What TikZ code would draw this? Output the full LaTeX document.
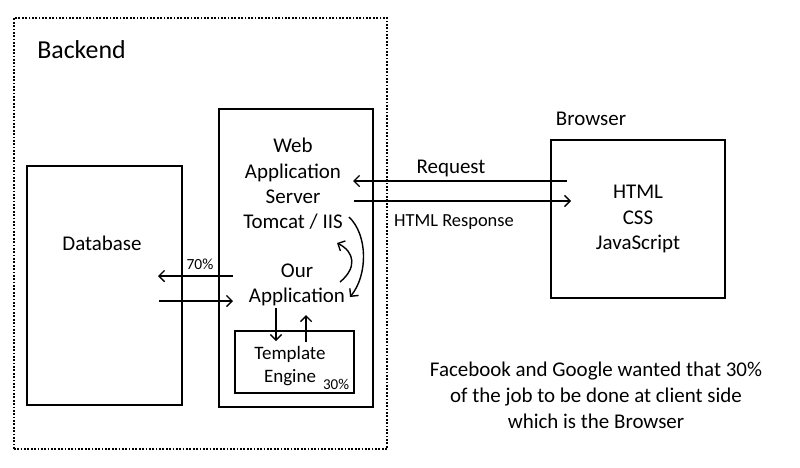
\documentclass[tikz,border=0pt]{standalone}
\usepackage{fontspec}
\setmainfont{Carlito}
\usetikzlibrary{arrows.meta, positioning}

\begin{document}
\begin{tikzpicture}[x=0.025cm, y=-0.025cm,
    box/.style={draw=black, line width=1.4pt, inner sep=0pt},
    txt/.style={font=\fontsize{14.9pt}{18pt}\selectfont, align=center, inner sep=0pt},
    smalltxt/.style={font=\fontsize{11pt}{13pt}\selectfont, inner sep=0pt},
    arr/.style={-{Straight Barb[length=4pt, width=8pt]}, line width=1pt}]
\useasboundingbox (0,0) rectangle (800,467);

% boxes
\node[box, dash pattern=on 1.2pt off 1.2pt, minimum width=9.325cm, minimum height=10.775cm] (backend) at (200.5,233.5) {};
\node[box, minimum width=3.875cm, minimum height=5.975cm] (db) at (104.5,285.5) {};
\node[box, minimum width=3.85cm, minimum height=7.45cm] (appserver) at (296,258) {};
\node[box, minimum width=2.975cm, minimum height=1.55cm] (tmpl) at (294.5,362) {};
\node[box, txt, minimum width=4.35cm, minimum height=3.95cm] (browser) at (638,219) {HTML\\CSS\\JavaScript};

% labels
\node[txt, font=\fontsize{18.4pt}{22pt}\selectfont] (backendlbl) at (81.5,50) {Backend};
\node[txt] (dblbl) at (102,243) {Database};
\node[txt] (webtxt) at (293,184) {Web\\Application\\Server\\Tomcat / IIS};
\node[txt] (apptxt) at (297,285) {Our\\Application};
\node[txt, font=\fontsize{13.5pt}{16pt}\selectfont] (tmpltxt) at (290,366) {Template\\Engine};
\node[smalltxt, font=\fontsize{10.7pt}{13pt}\selectfont] (pct30) at (336,384) {30\%};
\node[smalltxt] (pct70) at (200,264) {70\%};
\node[txt] (browserlbl) at (591,119) {Browser};
\node[txt] (reqlbl) at (451,168) {Request};
\node[txt, font=\fontsize{13.1pt}{16pt}\selectfont] (resplbl) at (454,222) {HTML Response};
\node[txt, font=\fontsize{14.9pt}{18.5pt}\selectfont] (caption) at (596,395)
    {Facebook and Google wanted that 30\%\\of the job to be done at client side\\which is the Browser};

% arrow ends
\coordinate (reqA) at (567,181);
\coordinate (reqB) at (353,181);
\coordinate (respA) at (354,201);
\coordinate (respB) at (571,201);
\coordinate (outA) at (233,276);
\coordinate (outB) at (158,276);
\coordinate (inA) at (159,301);
\coordinate (inB) at (233,301);
\coordinate (downA) at (276,308);
\coordinate (downB) at (276,341);
\coordinate (upA) at (306,342);
\coordinate (upB) at (306,315);
\coordinate (loopA) at (340,282);
\coordinate (loopB) at (337,243);
\coordinate (loopC) at (349,217);
\coordinate (loopD) at (350,297);

% arrows
\draw[arr] (reqA) -- (reqB);
\draw[arr] (respA) -- (respB);
\draw[arr] (outA) -- (outB);
\draw[arr] (inA) -- (inB);
\draw[arr] (downA) -- (downB);
\draw[arr] (upA) -- (upB);
\draw[arr] (loopA) .. controls (357,268) and (355,252) .. (loopB);
\draw[arr] (loopC) .. controls (368,235) and (368,275) .. (loopD);
\end{tikzpicture}
\end{document}
